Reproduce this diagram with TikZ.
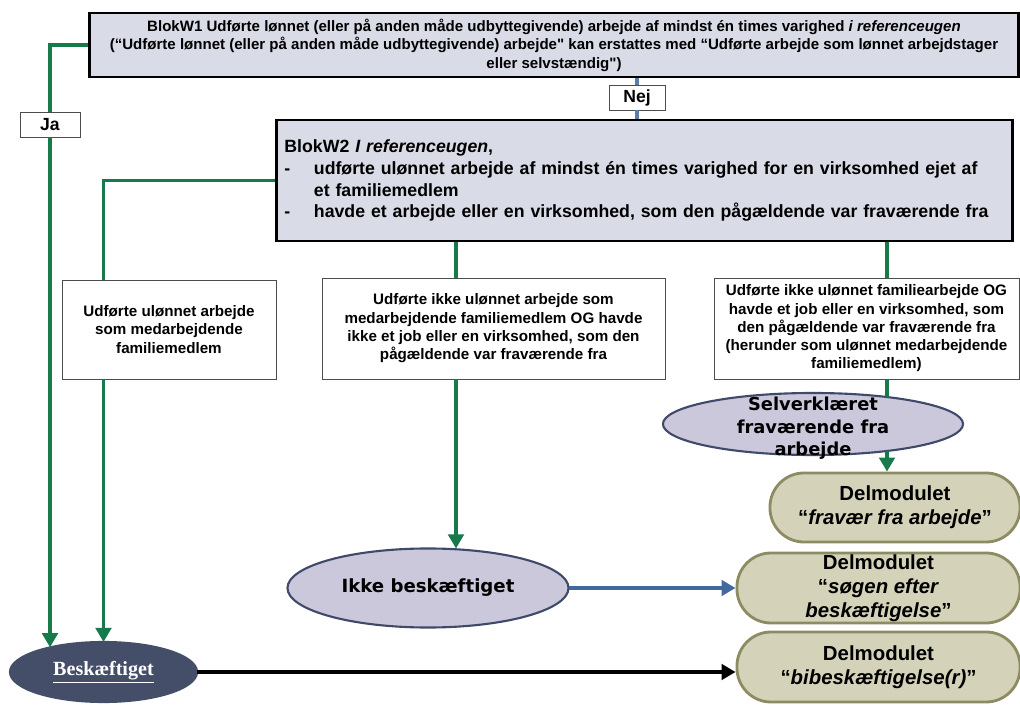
\documentclass[tikz,border=0pt]{standalone}
\usepackage{fontspec}
\setmainfont{Liberation Sans}
\newfontfamily\ellfont{DejaVu Sans}
\newfontfamily\beskfont{Liberation Serif}
\usetikzlibrary{arrows.meta,shapes.geometric}

\definecolor{blokfill}{RGB}{217,219,230}
\definecolor{gren}{RGB}{24,122,74}
\definecolor{nejlinje}{RGB}{91,125,166}
\definecolor{ellfill}{RGB}{203,200,219}
\definecolor{ellborder}{RGB}{63,74,107}
\definecolor{beskfill}{RGB}{69,78,105}
\definecolor{modfill}{RGB}{212,211,186}
\definecolor{modborder}{RGB}{140,139,98}
\definecolor{blaapil}{RGB}{65,105,160}

\tikzset{
  blok/.style={draw=black, line width=2pt, fill=blokfill, font=\bfseries},
  valg/.style={draw=black!70, line width=0.6pt, fill=white, align=center, inner sep=0pt,
    font=\bfseries\fontsize{10.8}{13}\selectfont},
  svar/.style={draw=black!70, line width=0.6pt, fill=white, minimum width=1.5cm, minimum height=0.625cm,
    inner sep=0pt, font=\bfseries\fontsize{12.5}{14}\selectfont},
  status/.style={ellipse, draw=ellborder, line width=1.5pt, fill=ellfill, inner sep=0pt, outer sep=0pt},
  modul/.style={draw=modborder, line width=2pt, fill=modfill, rounded corners=0.85cm, align=center,
    minimum width=7.075cm, minimum height=1.75cm, inner sep=0pt, font=\bfseries\fontsize{14.5}{17.2}\selectfont},
  gren/.style={draw=gren, line width=2.8pt},
  pil/.style={-{Triangle[length=10pt,width=11pt]}},
}

\begin{document}
\begin{tikzpicture}[x=0.025cm,y=-0.025cm]
\useasboundingbox (0,0) rectangle (1020,708);

\node[blok, minimum width=23.2cm, minimum height=1.6cm, align=center, inner sep=0pt,
  font=\bfseries\fontsize{10.7}{13.2}\selectfont] (w1) at (554,45)
  {BlokW1 Udførte lønnet (eller på anden måde udbyttegivende) arbejde af mindst én times varighed \textit{i referenceugen}\\
   (“Udførte lønnet (eller på anden måde udbyttegivende) arbejde\textquotedbl{} kan erstattes med “Udførte arbejde som lønnet arbejdstager\\
   eller selvstændig\textquotedbl)};
\node[blok, text width=18.0cm, inner xsep=0.2cm, minimum height=3.025cm, align=left,
  font=\bfseries\fontsize{12.6}{15.6}\selectfont] (w2) at (644.5,180.5)
  {BlokW2 \textit{I referenceugen},\\
   \makebox[21pt][l]{-}udførte ulønnet arbejde af mindst én times varighed for en virksomhed ejet af\\
   \hspace*{21pt}et familiemedlem\\
   \makebox[21pt][l]{-}havde et arbejde eller en virksomhed, som den pågældende var fraværende fra};

\node[valg, minimum width=5.35cm, minimum height=2.475cm] (b1) at (169,329.5)
  {Udførte ulønnet arbejde\\ som medarbejdende\\ familiemedlem};
\node[valg, minimum width=8.575cm, minimum height=2.525cm] (b2) at (493.5,328.5)
  {Udførte ikke ulønnet arbejde som\\ medarbejdende familiemedlem OG havde\\ ikke et job eller en virksomhed, som den\\ pågældende var fraværende fra};
\node[valg, minimum width=7.625cm, minimum height=2.525cm] (b3) at (866.5,328.5)
  {Udførte ikke ulønnet familiearbejde OG\\ havde et job eller en virksomhed, som\\ den pågældende var fraværende fra\\ (herunder som ulønnet medarbejdende\\ familiemedlem)};

\node[status, minimum width=7.5cm, minimum height=1.55cm,
  label={[font=\ellfont\bfseries\fontsize{12.7}{16}\selectfont, align=center, yshift=-3pt]center:Selverklæret\\ fraværende fra\\ arbejde}] (selv) at (813,424) {};
\node[status, minimum width=7.025cm, minimum height=1.975cm, font=\ellfont\bfseries\fontsize{12.9}{14}\selectfont] (ikke) at (428,588) {Ikke beskæftiget};
\node[status, fill=beskfill, draw=beskfill, minimum width=4.675cm, minimum height=1.5cm, text=white,
  font=\beskfont\bfseries\fontsize{14.3}{16}\selectfont] (besk) at (103.5,672) {\underline{Beskæftiget}};

\node[modul, minimum width=6.25cm, minimum height=1.725cm] (frav) at (895,507.5)
  {Delmodulet\\ “\textit{fravær fra arbejde}”};
\node[modul] (soeg) at (878.5,588)
  {Delmodulet\\ “\textit{søgen efter}\\ \textit{beskæftigelse}”};
\node[modul] (bibe) at (878.5,667)
  {Delmodulet\\ “\textit{bibeskæftigelse(r)}”};

\node[svar] (ja) at (50,124.5) {Ja};
\node[svar, minimum width=1.4cm] (nej) at (637,97.5) {Nej};

\coordinate (c2) at (456,0);
\coordinate (c3) at (887,0);

\draw[gren] (w1.west) -| (ja.north);
\draw[gren, pil] (ja.south) -- (ja.south |- besk.155);
\draw[gren] (w2.west) -| (b1.north -| besk.north);
\draw[gren, pil] (b1.south -| besk.north) -- (besk.north);
\draw[gren] (w2.south -| c2) -- (b2.north -| c2);
\draw[gren, pil] (b2.south -| c2) -- (c2 |- ikke.north);
\draw[gren] (w2.south -| c3) -- (b3.north -| c3);
\draw[gren] (b3.south -| c3) -- (c3 |- selv.20);
\draw[gren, pil] (c3 |- selv.-20) -- (c3 |- frav.north);
\draw[draw=nejlinje, line width=2.4pt] (nej.north |- w1.south) -- (nej.north);
\draw[draw=nejlinje, line width=2.4pt] (nej.south) -- (nej.south |- w2.north);
\draw[draw=blaapil, line width=2.8pt, pil] (ikke.east) -- (soeg.west);
\draw[line width=2.8pt, pil] (besk.east) -- (besk.east -| bibe.west);
\end{tikzpicture}
\end{document}
